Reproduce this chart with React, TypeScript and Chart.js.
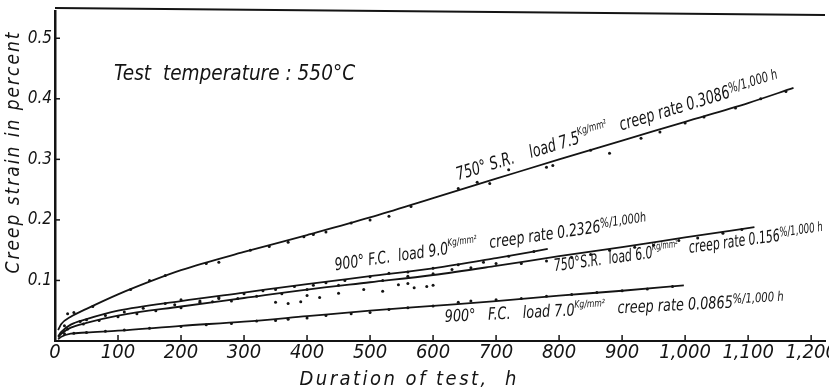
import React, { useEffect, useRef } from "react";
import { Chart, registerables } from "chart.js";

Chart.register(...registerables);

const FONT = "'DejaVu Sans Condensed', 'DejaVu Sans', sans-serif";
const STRETCH = "condensed";
const INK = "#141414";

// ---- axis ticks ----
const xTickValues = [0, 100, 200, 300, 400, 500, 600, 700, 800, 900, 1000, 1100, 1200];
const xTickLabels = ["0", "100", "200", "300", "400", "500", "600", "700", "800", "900", "1,000", "1,100", "1,200"];
const yTickValues = [0.1, 0.2, 0.3, 0.4, 0.5];
const yTickLabels = ["0.1", "0.2", "0.3", "0.4", "0.5"];

// ---- fitted curves (duration h, creep strain %) ----
// 750° S.R., load 7.5 kg/mm²
const curveA_h = [5, 10, 25, 50, 100, 150, 200, 300, 400, 500, 600, 700, 800, 900, 1000, 1100, 1172];
const curveA_v = [0.018, 0.028, 0.04, 0.053, 0.077, 0.098, 0.117, 0.147, 0.175, 0.204, 0.236, 0.268, 0.3, 0.331, 0.362, 0.393, 0.418];
// 900° F.C., load 9.0 kg/mm²
const curveB_h = [5, 10, 25, 50, 100, 200, 300, 400, 500, 600, 700, 782];
const curveB_v = [0.008, 0.015, 0.027, 0.036, 0.05, 0.066, 0.08, 0.094, 0.107, 0.12, 0.137, 0.152];
// 750° S.R., load 6.0 kg/mm²
const curveC_h = [5, 10, 25, 50, 100, 200, 300, 400, 500, 600, 700, 800, 900, 1000, 1110];
const curveC_v = [0.006, 0.012, 0.022, 0.03, 0.042, 0.057, 0.071, 0.085, 0.097, 0.109, 0.124, 0.14, 0.155, 0.171, 0.188];
// 900° F.C., load 7.0 kg/mm²
const curveD_h = [5, 10, 25, 50, 100, 200, 300, 400, 500, 600, 700, 800, 900, 998];
const curveD_v = [0.003, 0.007, 0.012, 0.014, 0.017, 0.025, 0.032, 0.041, 0.05, 0.058, 0.066, 0.075, 0.083, 0.092];

// ---- measured points ----
const ptsA_h = [20, 30, 60, 120, 150, 175, 240, 260, 310, 340, 370, 395, 410, 430, 470, 500, 530, 565, 640, 670, 690, 720, 780, 790, 850, 880, 930, 960, 1000, 1030, 1080, 1120, 1160];
const ptsA_v = [0.045, 0.047, 0.057, 0.085, 0.1, 0.108, 0.128, 0.13, 0.15, 0.156, 0.163, 0.172, 0.176, 0.18, 0.195, 0.2, 0.206, 0.222, 0.252, 0.262, 0.26, 0.283, 0.287, 0.29, 0.315, 0.31, 0.335, 0.345, 0.36, 0.37, 0.385, 0.4, 0.412];
const ptsB_h = [15, 40, 50, 80, 110, 140, 190, 230, 260, 300, 330, 350, 380, 410, 430, 460, 500, 530, 560, 600, 640, 680, 720, 760];
const ptsB_v = [0.025, 0.032, 0.035, 0.042, 0.048, 0.054, 0.06, 0.066, 0.072, 0.078, 0.083, 0.085, 0.09, 0.092, 0.096, 0.1, 0.106, 0.112, 0.114, 0.12, 0.126, 0.13, 0.14, 0.148];
const ptsC_h = [20, 45, 70, 100, 130, 160, 200, 250, 290, 320, 360, 400, 450, 520, 560, 600, 630, 660, 700, 740, 780, 820, 850, 880, 920, 950, 990, 1020, 1060, 1090];
const ptsC_v = [0.02, 0.028, 0.034, 0.04, 0.045, 0.05, 0.055, 0.065, 0.07, 0.074, 0.078, 0.085, 0.092, 0.1, 0.107, 0.111, 0.118, 0.121, 0.128, 0.128, 0.132, 0.138, 0.143, 0.15, 0.155, 0.158, 0.166, 0.17, 0.178, 0.184];
const ptsD_h = [15, 30, 50, 80, 110, 150, 200, 240, 280, 320, 350, 370, 400, 430, 470, 500, 530, 560, 600, 640, 660, 700, 740, 780, 820, 860, 900, 940, 980];
const ptsD_v = [0.012, 0.013, 0.014, 0.016, 0.018, 0.021, 0.024, 0.027, 0.029, 0.033, 0.034, 0.036, 0.038, 0.042, 0.045, 0.047, 0.052, 0.055, 0.058, 0.064, 0.066, 0.068, 0.07, 0.074, 0.077, 0.08, 0.083, 0.086, 0.09];
const ptsE_h = [175, 200, 230, 260, 280, 350, 370, 390, 400, 420, 450, 490, 520, 545, 570, 590, 560, 600];
const ptsE_v = [0.062, 0.068, 0.064, 0.07, 0.066, 0.064, 0.062, 0.065, 0.075, 0.072, 0.079, 0.085, 0.082, 0.093, 0.088, 0.09, 0.095, 0.092];

// ---- texts ----
const yTitle = "Creep strain in percent";
const xTitle = "Duration of test,  h";
const tempText = "Test  temperature : 550°C";

type Seg = { t: string; k?: number; up?: number };
type Label = { segs: Seg[]; size: number; from: [number, number]; to: [number, number] };

const curveLabels: Label[] = [
  {
    segs: [{ t: "750° S.R.    load 7.5" }, { t: "Kg/mm²", k: 0.6, up: 0.45 }, { t: "   creep rate 0.3086" }, { t: "%/1,000 h", k: 0.78, up: 0.25 }],
    size: 18,
    from: [640, 0.2657],
    to: [1150, 0.427],
  },
  {
    segs: [{ t: "900° F.C.  load 9.0" }, { t: "Kg/mm²", k: 0.6, up: 0.45 }, { t: "   creep rate 0.2326" }, { t: "%/1,000h", k: 0.78, up: 0.25 }],
    size: 17,
    from: [445, 0.117],
    to: [940, 0.191],
  },
  {
    segs: [{ t: "750°S.R.  load 6.0" }, { t: "Kg/mm²", k: 0.6, up: 0.45 }, { t: "   creep rate 0.156" }, { t: "%/1,000 h", k: 0.78, up: 0.25 }],
    size: 17,
    from: [793, 0.1155],
    to: [1220, 0.175],
  },
  {
    segs: [{ t: "900°   F.C.   load 7.0" }, { t: "Kg/mm²", k: 0.6, up: 0.45 }, { t: "   creep rate 0.0865" }, { t: "%/1,000 h", k: 0.78, up: 0.25 }],
    size: 17,
    from: [619, 0.0314],
    to: [1157, 0.0594],
  },
];

const zip = (xs: number[], ys: number[]) => xs.map((x, i) => ({ x, y: ys[i] }));

const font = (size: number) => `italic ${STRETCH} ${size}px ${FONT}`;

// draws a run of text segments from (x0,y0) to (x1,y1), squeezing it horizontally to fit
function drawRich(ctx: CanvasRenderingContext2D, segs: Seg[], size: number, x0: number, y0: number, x1: number, y1: number) {
  let total = 0;
  const widths = segs.map((s) => {
    ctx.font = font(size * (s.k ?? 1));
    const w = ctx.measureText(s.t).width;
    total += w;
    return w;
  });
  const len = Math.hypot(x1 - x0, y1 - y0);
  const sx = len / total;
  ctx.save();
  ctx.translate(x0, y0);
  ctx.rotate(Math.atan2(y1 - y0, x1 - x0));
  ctx.scale(sx, 1);
  ctx.textBaseline = "alphabetic";
  ctx.textAlign = "left";
  let cx = 0;
  segs.forEach((s, i) => {
    ctx.font = font(size * (s.k ?? 1));
    ctx.fillText(s.t, cx, -(s.up ?? 0) * size);
    cx += widths[i];
  });
  ctx.restore();
}

function drawSpaced(ctx: CanvasRenderingContext2D, text: string, cx: number, cy: number, size: number, target: number, rot: number) {
  ctx.save();
  ctx.font = font(size);
  const w = ctx.measureText(text).width;
  const sp = (target - w) / Math.max(1, text.length - 1);
  ctx.translate(cx, cy);
  ctx.rotate(rot);
  if (sp >= 0) {
    (ctx as any).letterSpacing = `${sp}px`;
  } else {
    ctx.scale(target / w, 1);
  }
  ctx.textAlign = "left";
  ctx.textBaseline = "middle";
  ctx.fillText(text, sp >= 0 ? -target / 2 : -w / 2, 0);
  ctx.restore();
}

const decorPlugin = {
  id: "decor",
  afterDraw(chart: any) {
    const { ctx, chartArea } = chart;
    const x = chart.scales.x;
    const y = chart.scales.y;
    ctx.save();
    ctx.strokeStyle = INK;
    ctx.fillStyle = INK;
    // top frame line
    ctx.lineWidth = 2;
    ctx.beginPath();
    ctx.moveTo(chartArea.left, chartArea.top - 3);
    ctx.lineTo(chartArea.right, chartArea.top + 4);
    ctx.stroke();
    // inward tick marks
    ctx.lineWidth = 1.5;
    xTickValues.forEach((v) => {
      const px = x.getPixelForValue(v);
      ctx.beginPath();
      ctx.moveTo(px, chartArea.bottom);
      ctx.lineTo(px, chartArea.bottom - 6);
      ctx.stroke();
    });
    yTickValues.forEach((v) => {
      const py = y.getPixelForValue(v);
      ctx.beginPath();
      ctx.moveTo(chartArea.left, py);
      ctx.lineTo(chartArea.left + 5, py);
      ctx.stroke();
    });
    // curve labels
    curveLabels.forEach((l) => {
      drawRich(
        ctx,
        l.segs,
        l.size,
        x.getPixelForValue(l.from[0]),
        y.getPixelForValue(l.from[1]),
        x.getPixelForValue(l.to[0]),
        y.getPixelForValue(l.to[1])
      );
    });
    // temperature note
    drawSpaced(ctx, tempText, x.getPixelForValue(285), y.getPixelForValue(0.44), 22, 241, 0);
    // axis titles
    drawSpaced(ctx, xTitle, 408, 380, 20, 217, 0);
    drawSpaced(ctx, yTitle, 14, 153, 19, 241, -Math.PI / 2);
    ctx.restore();
  },
};

export default function App() {
  const ref = useRef<HTMLCanvasElement | null>(null);

  useEffect(() => {
    if (!ref.current) return;
    const line = (h: number[], v: number[]) => ({
      type: "line" as const,
      data: zip(h, v),
      showLine: true,
      borderColor: INK,
      borderWidth: 1.8,
      pointRadius: 0,
      cubicInterpolationMode: "monotone" as const,
      fill: false,
    });
    const dots = (h: number[], v: number[]) => ({
      type: "scatter" as const,
      data: zip(h, v),
      showLine: false,
      pointRadius: 1.5,
      pointBorderWidth: 0,
      backgroundColor: INK,
      borderColor: INK,
    });
    const chart = new Chart(ref.current, {
      type: "scatter",
      data: {
        datasets: [
          line(curveA_h, curveA_v),
          line(curveB_h, curveB_v),
          line(curveC_h, curveC_v),
          line(curveD_h, curveD_v),
          dots(ptsA_h, ptsA_v),
          dots(ptsB_h, ptsB_v),
          dots(ptsC_h, ptsC_v),
          dots(ptsD_h, ptsD_v),
          dots(ptsE_h, ptsE_v),
        ] as any,
      },
      options: {
        animation: false,
        responsive: false,
        maintainAspectRatio: false,
        layout: { padding: { top: 11, left: 0, right: 0, bottom: 0 } },
        plugins: { legend: { display: false }, tooltip: { enabled: false }, title: { display: false } },
        scales: {
          x: {
            type: "linear",
            min: 0,
            max: 1222,
            afterBuildTicks: (s: any) => {
              s.ticks = xTickValues.map((v) => ({ value: v }));
            },
            afterFit: (s: any) => {
              s.height = 51;
              s.paddingLeft = 0;
              s.paddingRight = 0;
            },
            ticks: {
              autoSkip: false,
              maxRotation: 0,
              padding: 0,
              color: INK,
              font: { family: FONT, size: 20, style: "italic", weight: STRETCH },
              callback: (_v: any, i: number) => xTickLabels[i],
            },
            grid: { display: false, drawTicks: false },
            border: { display: true, color: INK, width: 2 },
          },
          y: {
            type: "linear",
            min: 0,
            max: 0.545,
            afterBuildTicks: (s: any) => {
              s.ticks = yTickValues.map((v) => ({ value: v }));
            },
            afterFit: (s: any) => {
              s.width = 55;
              s.paddingTop = 0;
              s.paddingBottom = 0;
            },
            ticks: {
              padding: 3,
              color: INK,
              font: { family: FONT, size: 17, style: "italic", weight: STRETCH },
              callback: (_v: any, i: number) => yTickLabels[i],
            },
            grid: { display: false, drawTicks: false },
            border: { display: true, color: INK, width: 2.5 },
          },
        },
      },
      plugins: [decorPlugin],
    } as any);
    return () => chart.destroy();
  }, []);

  return (
    <div style={{ position: "fixed", left: 0, top: 0, width: 829, height: 392, background: "#fff" }}>
      <canvas ref={ref} width={829} height={392} style={{ width: 829, height: 392, display: "block" }} />
    </div>
  );
}
